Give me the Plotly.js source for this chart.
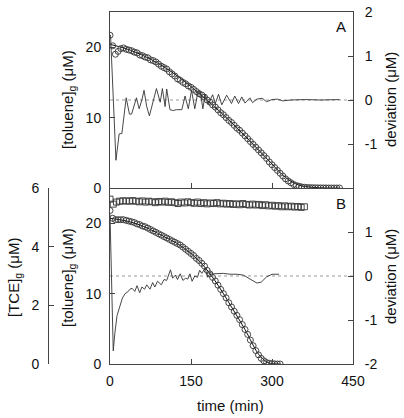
<!DOCTYPE html>
<html>
<head>
<meta charset="utf-8">
<script src="https://cdn.plot.ly/plotly-3.0.1.min.js"></script>
<style>html,body{margin:0;padding:0;background:#fff;}#chart{width:404px;height:418px;}</style>
</head>
<body>
<div id="chart"></div>
<script>
// ---------- Panel A ----------
const timeA = [0,5,10,15,20,25,30,35,40,45,50,55,60,65,70,75,80,85,90,95,100,105,110,115,120,125,130,135,140,145,150,155,160,165,170,175,180,185,190,195,200,205,210,215,220,225,230,235,240,245,250,255,260,265,270,275,280,285,290,295,300,305,310,315,320,325,330,335,340,345,350,355,360,365,370,375,380,385,390,395,400,405,410,415,420,425];
const tolueneA = [21.7,20.2,19.0,19.4,19.8,19.9,19.7,19.6,19.5,19.3,19.2,18.9,18.8,18.6,18.5,18.2,18.1,17.9,17.6,17.3,17.1,16.9,16.5,16.2,15.9,15.5,15.3,15.0,14.8,14.5,14.3,14.0,13.7,13.4,13.2,12.9,12.5,12.2,11.8,11.5,11.1,10.7,10.4,10.0,9.6,9.3,8.9,8.5,8.2,7.8,7.4,7.0,6.6,6.2,5.8,5.4,5.0,4.6,4.2,3.7,3.3,2.9,2.5,2.1,1.7,1.3,1.0,0.75,0.5,0.35,0.25,0.15,0.1,0.07,0.05,0.04,0.03,0.02,0.02,0.01,0.01,0,0,0,0,0];
const fitTimeA = [0,25,50,75,100,125,150,175,200,225,250,275,300,325,350,375,400,425];
const fitA = [20.4,19.9,19.2,18.3,17.2,15.9,14.4,12.8,11.1,9.3,7.4,5.4,3.4,1.5,0.4,0.1,0,0];
const devTimeA = [1,11,17,22,30,36,40,49,54,59,63,68,73,80,86,93,97,102,105,111,117,123,133,139,145,151,157,163,167,172,176,182,190,195,201,207,216,225,231,238,244,250,259,264,272,282,290,300,310,320,335,360,390,425];
const devA = [1.48,-1.37,-0.77,-0.76,0.05,-0.32,-0.32,0.05,-0.2,0.0,0.22,-0.15,-0.36,-0.02,0.26,-0.05,0.26,-0.15,0.25,-0.22,-0.24,-0.22,-0.22,0.09,-0.2,0.22,-0.2,0.2,0.2,-0.2,0.13,-0.1,0.12,-0.08,0.13,-0.11,0.11,-0.08,0.09,-0.08,0.07,-0.07,0.05,-0.06,0.02,0.04,-0.04,0.01,0.02,-0.02,0.0,0.01,0.0,0.01];

// ---------- Panel B ----------
const timeB = [0,5,10,15,20,25,30,35,40,45,50,55,60,65,70,75,80,85,90,95,100,105,110,115,120,125,130,135,140,145,150,155,160,165,170,175,180,185,190,195,200,205,210,215,220,225,230,235,240,245,250,255,260,265,270,275,280,285,290,295,300,305,310,315];
const tolueneB = [21.8,20.7,20.5,20.5,20.5,20.5,20.4,20.3,20.2,20.1,19.9,19.8,19.6,19.5,19.3,19.1,18.9,18.7,18.5,18.3,18.1,17.9,17.7,17.5,17.3,17.1,16.9,16.6,16.3,16.0,15.7,15.4,15.0,14.7,14.3,13.9,13.3,12.8,12.3,11.8,11.2,10.6,10.0,9.4,8.7,8.1,7.5,6.9,6.3,5.6,4.9,4.2,3.4,2.6,1.9,1.3,0.8,0.45,0.2,0.1,0.05,0.02,0,0];
const fitTimeB = [0,25,50,75,100,125,150,175,200,225,250,275,290,300,315];
const fitB = [20.7,20.4,19.9,19.1,18.1,17.1,15.7,13.8,11.2,8.1,4.9,1.4,0.3,0.05,0];
const timeTCE = [0,6,12,18,24,30,36,42,48,54,60,66,72,78,84,90,96,102,108,114,120,126,132,138,144,150,156,162,168,174,180,186,192,198,204,210,216,222,228,234,240,246,252,258,264,270,276,282,288,294,300,306,312,318,324,330,336,342,348,354,360];
const tce = [5.62,5.45,5.52,5.55,5.56,5.56,5.55,5.57,5.55,5.53,5.56,5.52,5.55,5.53,5.50,5.54,5.52,5.55,5.51,5.53,5.50,5.47,5.52,5.49,5.53,5.50,5.48,5.52,5.47,5.50,5.46,5.49,5.47,5.50,5.46,5.48,5.45,5.47,5.44,5.46,5.43,5.47,5.44,5.42,5.45,5.42,5.44,5.40,5.43,5.39,5.41,5.38,5.40,5.36,5.39,5.36,5.38,5.35,5.37,5.34,5.36];
const devTimeB = [0,6,9,13,18,23,28,33,37,41,46,50,55,59,64,68,74,79,83,88,95,100,105,109,112,116,121,125,130,135,140,144,148,152,157,162,166,170,176,181,186,192,200,210,222,235,247,256,265,272,280,290,300,313];
const devB = [1.4,-1.7,-1.3,-0.9,-0.7,-0.5,-0.4,-0.36,-0.3,-0.28,-0.35,-0.22,-0.38,-0.25,-0.3,-0.2,-0.3,-0.15,-0.25,-0.12,-0.2,-0.08,-0.1,0.03,0.14,-0.05,0.02,-0.08,0.05,-0.1,-0.05,-0.07,0.05,-0.12,0.0,-0.03,0.13,0.06,0.18,-0.03,0.08,0.05,0.06,0.06,0.04,0.04,0.02,-0.05,-0.1,-0.16,-0.14,-0.02,0.04,0.04];

const zeroX = [0,450];
const zeroY = [0,0];
const xTicks = [0,150,300,450];
const devTicksA = [-1,0,1,2];
const devLabelsA = ['-1','0','1','2'];
const devTicksB = [-2,-1,0,1];
const devLabelsB = ['-2','-1','0','1'];

const font = {family: 'Liberation Sans, Arial, sans-serif', size: 14, color: '#111'};
const tfont = {family: font.family, size: 15, color: '#111'};
const axisCol = '#444';

const traces = [
  {x: zeroX, y: zeroY, xaxis: 'x', yaxis: 'y2', mode: 'lines', line: {color: '#999', width: 1, dash: 'dot'}},
  {x: devTimeA, y: devA, xaxis: 'x', yaxis: 'y2', mode: 'lines', line: {color: '#333', width: 0.9}},
  {x: fitTimeA, y: fitA, xaxis: 'x', yaxis: 'y', mode: 'lines', line: {color: '#111', width: 1, shape: 'spline'}},
  {x: timeA, y: tolueneA, xaxis: 'x', yaxis: 'y', mode: 'markers', marker: {symbol: 'circle-open', size: 6, color: '#333', line: {width: 0.9}}},
  {x: zeroX, y: zeroY, xaxis: 'x2', yaxis: 'y4', mode: 'lines', line: {color: '#999', width: 1, dash: 'dot'}},
  {x: devTimeB, y: devB, xaxis: 'x2', yaxis: 'y4', mode: 'lines', line: {color: '#333', width: 0.9}},
  {x: fitTimeB, y: fitB, xaxis: 'x2', yaxis: 'y3', mode: 'lines', line: {color: '#111', width: 1, shape: 'spline'}},
  {x: timeB, y: tolueneB, xaxis: 'x2', yaxis: 'y3', mode: 'markers', marker: {symbol: 'circle-open', size: 6, color: '#333', line: {width: 0.9}}},
  {x: timeTCE, y: tce, xaxis: 'x2', yaxis: 'y5', mode: 'markers', marker: {symbol: 'square-open', size: 6, color: '#333', line: {width: 0.9}}}
];

const L = 48, R = 51, T = 12, B = 54, W = 404, H = 418;
const pw = W - L - R, ph = H - T - B;
const xd0 = (110 - L) / pw;
const px = v => (v - L) / pw;
const py = v => (H - B - v) / ph;

const yBase = {showline: true, linecolor: axisCol, linewidth: 1, ticks: 'inside', ticklen: 5, tickcolor: axisCol, showgrid: false, zeroline: false, tickfont: font, ticklabelstandoff: 5, fixedrange: true};

const layout = {
  width: W, height: H,
  margin: {l: L, r: R, t: T, b: B},
  paper_bgcolor: '#fff', plot_bgcolor: 'rgba(0,0,0,0)',
  showlegend: false,
  font: font,
  xaxis: {domain: [xd0, 1], anchor: 'y', range: [0, 450], tickvals: xTicks, showticklabels: false, ticks: 'inside', ticklen: 5, tickcolor: axisCol, showline: true, mirror: true, linecolor: axisCol, linewidth: 1, showgrid: false, zeroline: false},
  xaxis2: {domain: [xd0, 1], anchor: 'y3', range: [0, 450], tickvals: xTicks, ticktext: xTicks.map(String), ticks: 'inside', ticklen: 5, tickcolor: axisCol, showline: true, linecolor: axisCol, linewidth: 1, showgrid: false, zeroline: false, tickfont: font, ticklabelstandoff: 4},
  yaxis: Object.assign({}, yBase, {domain: [0.5, 1], anchor: 'x', range: [0, 25], tickvals: [0, 10, 20]}),
  yaxis2: Object.assign({}, yBase, {overlaying: 'y', side: 'right', anchor: 'x', range: [-2, 2], tickvals: devTicksA, ticktext: devLabelsA, ticklabelstandoff: 8}),
  yaxis3: Object.assign({}, yBase, {domain: [0, 0.5], anchor: 'x2', range: [0, 25], tickvals: [0, 10, 20]}),
  yaxis4: Object.assign({}, yBase, {overlaying: 'y3', side: 'right', anchor: 'x2', range: [-2, 2], tickvals: devTicksB, ticktext: devLabelsB, ticklabelstandoff: 8}),
  yaxis5: Object.assign({}, yBase, {overlaying: 'y3', side: 'left', anchor: 'free', position: 0, range: [0, 6], tickvals: [0, 2, 4, 6], ticklabelstandoff: 6}),
  annotations: [
    {text: '[toluene]<sub>g</sub> (μM)', xref: 'paper', yref: 'paper', x: px(68), y: py(100), textangle: -90, showarrow: false, xanchor: 'center', yanchor: 'middle', font: tfont},
    {text: '[toluene]<sub>g</sub> (μM)', xref: 'paper', yref: 'paper', x: px(68), y: py(278), textangle: -90, showarrow: false, xanchor: 'center', yanchor: 'middle', font: tfont},
    {text: '[TCE]<sub>g</sub> (μM)', xref: 'paper', yref: 'paper', x: px(14), y: py(278), textangle: -90, showarrow: false, xanchor: 'center', yanchor: 'middle', font: tfont},
    {text: 'deviation (μM)', xref: 'paper', yref: 'paper', x: px(390), y: py(100), textangle: -90, showarrow: false, xanchor: 'center', yanchor: 'middle', font: tfont},
    {text: 'deviation (μM)', xref: 'paper', yref: 'paper', x: px(390), y: py(277), textangle: -90, showarrow: false, xanchor: 'center', yanchor: 'middle', font: tfont},
    {text: 'time (min)', xref: 'paper', yref: 'paper', x: px(230), y: py(405), showarrow: false, xanchor: 'center', yanchor: 'middle', font: tfont},
    {text: 'A', xref: 'paper', yref: 'paper', x: px(341), y: py(27), showarrow: false, xanchor: 'center', yanchor: 'middle', font: tfont},
    {text: 'B', xref: 'paper', yref: 'paper', x: px(341), y: py(203), showarrow: false, xanchor: 'center', yanchor: 'middle', font: tfont}
  ]
};

Plotly.newPlot('chart', traces, layout, {staticPlot: true, displayModeBar: false});
</script>
</body>
</html>
